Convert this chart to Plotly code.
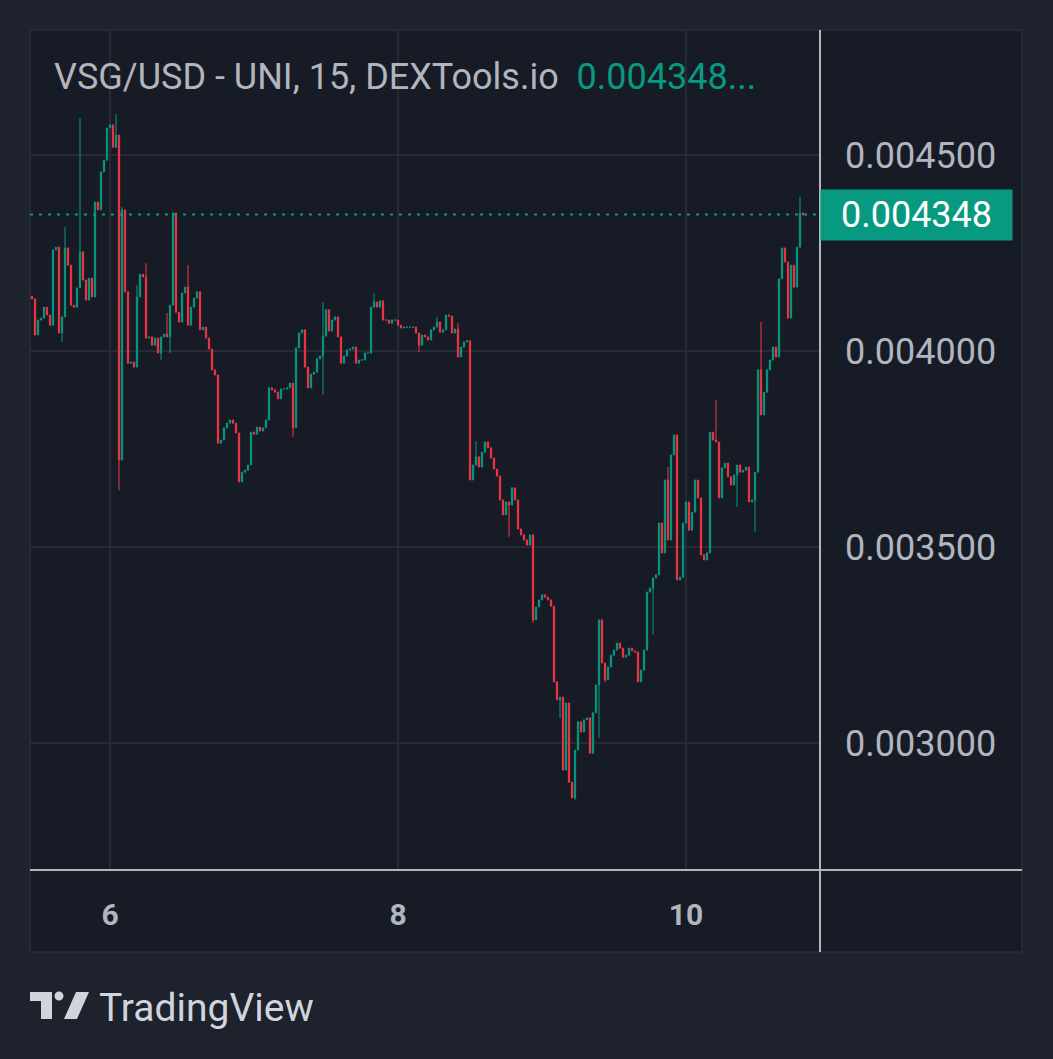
import pandas as pd
import plotly.graph_objects as go

# ---------------- data (30-min bars) ----------------
start_time = "2024-06-05 11:00"
bar_interval = "30min"
first_open = 0.004140
closes = [
    0.004133, 0.004041, 0.004079, 0.004084, 0.004112, 0.004092, 0.004066, 0.004258, 0.004265, 0.004046,
    0.004087, 0.004263, 0.004219, 0.004117, 0.004112, 0.004161, 0.004253, 0.004181, 0.004130, 0.004186,
    0.004138, 0.004380, 0.004360, 0.004457, 0.004487, 0.004569, 0.004577, 0.004520, 0.004551, 0.003722,
    0.004360, 0.004151, 0.003969, 0.003972, 0.003959, 0.004138, 0.004196, 0.004189, 0.004033, 0.004036,
    0.004015, 0.004033, 0.003995, 0.004036, 0.004043, 0.004036, 0.004117, 0.004352, 0.004099, 0.004074,
    0.004148, 0.004163, 0.004066, 0.004112, 0.004135, 0.004151, 0.004054, 0.004061, 0.004033, 0.004005,
    0.003952, 0.003939, 0.003765, 0.003773, 0.003804, 0.003816, 0.003824, 0.003816, 0.003791, 0.003666,
    0.003691, 0.003696, 0.003709, 0.003793, 0.003788, 0.003806, 0.003796, 0.003804, 0.003824, 0.003906,
    0.003901, 0.003895, 0.003878, 0.003903, 0.003903, 0.003906, 0.003918, 0.003804, 0.004008, 0.004046,
    0.004054, 0.003959, 0.003906, 0.003941, 0.003946, 0.003980, 0.003987, 0.004038, 0.004105, 0.004051,
    0.004079, 0.004087, 0.004036, 0.003969, 0.003987, 0.004003, 0.004005, 0.004010, 0.003969, 0.003977,
    0.003977, 0.003995, 0.003995, 0.004112, 0.004125, 0.004112, 0.004128, 0.004079, 0.004079, 0.004071,
    0.004079, 0.004079, 0.004066, 0.004059, 0.004061, 0.004061, 0.004061, 0.004061, 0.004046, 0.004015,
    0.004041, 0.004036, 0.004028, 0.004054, 0.004061, 0.004074, 0.004048, 0.004054, 0.004092, 0.004089,
    0.004046, 0.004056, 0.003985, 0.004010, 0.004023, 0.004026, 0.003671, 0.003709, 0.003730, 0.003704,
    0.003742, 0.003768, 0.003753, 0.003727, 0.003699, 0.003681, 0.003620, 0.003582, 0.003615, 0.003607,
    0.003651, 0.003620, 0.003546, 0.003531, 0.003518, 0.003505, 0.003531, 0.003314, 0.003347, 0.003365,
    0.003378, 0.003372, 0.003365, 0.003349, 0.003156, 0.003110, 0.003117, 0.002931, 0.003102, 0.002900,
    0.002860, 0.002982, 0.003054, 0.003028, 0.003059, 0.003064, 0.002974, 0.003077, 0.003148, 0.003314,
    0.003204, 0.003161, 0.003194, 0.003224, 0.003237, 0.003255, 0.003242, 0.003219, 0.003224, 0.003242,
    0.003235, 0.003232, 0.003156, 0.003186, 0.003237, 0.003385, 0.003395, 0.003421, 0.003429, 0.003561,
    0.003485, 0.003671, 0.003518, 0.003735, 0.003786, 0.003416, 0.003423, 0.003561, 0.003615, 0.003543,
    0.003589, 0.003671, 0.003625, 0.003480, 0.003467, 0.003485, 0.003793, 0.003773, 0.003768, 0.003625,
    0.003702, 0.003714, 0.003679, 0.003658, 0.003684, 0.003709, 0.003691, 0.003696, 0.003704, 0.003615,
    0.003620, 0.003691, 0.003952, 0.003837, 0.003895, 0.003952, 0.003977, 0.004010, 0.003985, 0.004184,
    0.004263, 0.004227, 0.004084, 0.004219, 0.004163, 0.004265, 0.004352, 0.004347, 0.004348,
]
# upper / lower wick extremes that stick out beyond the bodies
wick_high_idx = [11, 16, 28, 30, 35, 38, 45, 52, 97, 114, 135, 142, 148, 212, 228, 243, 256]
wick_high_val = [0.004316, 0.004594, 0.004605, 0.004367, 0.004168, 0.004224, 0.004097, 0.004219,
                 0.004125, 0.004148, 0.004087, 0.004071, 0.003770, 0.003704, 0.003875, 0.004074, 0.004393]
wick_low_idx = [10, 29, 43, 46, 87, 97, 129, 159, 167, 176, 181, 189, 191, 207, 235, 241]
wick_low_val = [0.004023, 0.003645, 0.003977, 0.003995, 0.003781, 0.003888, 0.003997, 0.003526,
                0.003306, 0.003064, 0.002855, 0.003013, 0.003156, 0.003276, 0.003602, 0.003538]

last_price = 0.004348
y_tick_values = [0.0030, 0.0035, 0.0040, 0.0045]
x_tick_dates = ["2024-06-06", "2024-06-08", "2024-06-10"]
x_tick_labels = ["6", "8", "10"]
x_range = ["2024-06-05 10:40", "2024-06-10 22:20"]
y_range = [0.002676, 0.004819]
title_text = "VSG/USD - UNI, 15, DEXTools.io"
price_text = "0.004348..."
brand_text = "TradingView"

# ---------------- build OHLC ----------------
times = pd.date_range(start_time, periods=len(closes), freq=bar_interval)
opens = [first_open] + closes[:-1]
highs = [max(o, c) for o, c in zip(opens, closes)]
lows = [min(o, c) for o, c in zip(opens, closes)]
for i, v in zip(wick_high_idx, wick_high_val):
    highs[i] = max(highs[i], v)
for i, v in zip(wick_low_idx, wick_low_val):
    lows[i] = min(lows[i], v)

UP = "#089981"
DOWN = "#F23645"
PAPER = "#1e222d"
PANEL = "#171b26"
GRID = "#272b37"
TXT = "#b2b5be"
AXL = "#b2b5be"
FONT = "Roboto"

W, H = 1053, 1059
PL, PR, PT, PB = 30, 820, 30, 870


def fx(p):
    return (p - PL) / (PR - PL)


def fy(p):
    return (PB - p) / (PB - PT)


fig = go.Figure(go.Candlestick(
    x=times, open=opens, high=highs, low=lows, close=closes,
    increasing=dict(line=dict(color=UP, width=1), fillcolor=UP),
    decreasing=dict(line=dict(color=DOWN, width=1), fillcolor=DOWN),
    whiskerwidth=0, showlegend=False, hoverinfo="skip",
))

shapes = [
    # chart panel background + border
    dict(type="rect", xref="paper", yref="paper", x0=fx(30), x1=fx(1022), y0=fy(952), y1=fy(30),
         fillcolor=PANEL, line=dict(color="#2a2e39", width=1.5), layer="below"),
    # price axis border
    dict(type="line", xref="paper", yref="paper", x0=1, x1=1, y0=fy(952), y1=fy(30),
         line=dict(color=AXL, width=2)),
    # time axis border
    dict(type="line", xref="paper", yref="paper", x0=fx(30), x1=fx(1022), y0=0, y1=0,
         line=dict(color=AXL, width=2)),
    # last price dotted line
    dict(type="line", xref="paper", yref="y", x0=0, x1=1, y0=last_price, y1=last_price,
         line=dict(color=UP, width=2, dash="3px,6px")),
]


def path(points):
    return "M " + " L ".join(f"{fx(a):.5f},{fy(b):.5f}" for a, b in points) + " Z"


# TradingView logo glyph
shapes.append(dict(type="path", xref="paper", yref="paper",
                   path=path([(30, 992), (52, 992), (52, 1019), (41, 1019), (41, 1001), (30, 1001)]),
                   fillcolor="#d1d4dc", line=dict(width=0)))
shapes.append(dict(type="circle", xref="paper", yref="paper",
                   x0=fx(54.5), x1=fx(63.5), y0=fy(1000.5), y1=fy(991.5),
                   fillcolor="#d1d4dc", line=dict(width=0)))
shapes.append(dict(type="path", xref="paper", yref="paper",
                   path=path([(64, 1019), (76, 992), (89, 992), (77, 1019)]),
                   fillcolor="#d1d4dc", line=dict(width=0)))

annotations = [
    dict(xref="paper", yref="y", x=1, y=last_price, xanchor="left", yanchor="middle",
         text=f"{last_price:.6f}", showarrow=False,
         font=dict(family=FONT, size=36, color="white"),
         bgcolor=UP, borderpad=0, width=191, height=50, align="center"),
    dict(xref="paper", yref="paper", x=fx(52), y=fy(77), xanchor="left", yanchor="middle",
         text=f"{title_text}&nbsp;&nbsp;<span style='color:{UP}'>{price_text}</span>",
         showarrow=False, font=dict(family=FONT, size=36, color=TXT)),
    dict(xref="paper", yref="paper", x=fx(97), y=fy(1008), xanchor="left", yanchor="middle",
         text=brand_text, showarrow=False, font=dict(family=FONT, size=39, color="#d1d4dc")),
]

fig.update_layout(
    width=W, height=H, autosize=False,
    margin=dict(l=PL, r=W - PR, t=PT, b=H - PB, pad=0),
    paper_bgcolor=PAPER, plot_bgcolor=PANEL,
    shapes=shapes, annotations=annotations,
    showlegend=False, hovermode=False,
    font=dict(family=FONT),
    xaxis=dict(type="date", range=x_range, rangeslider=dict(visible=False),
               tickvals=x_tick_dates, ticktext=x_tick_labels,
               tickfont=dict(family=FONT, size=30, color=TXT, weight="bold"),
               showgrid=True, gridcolor=GRID, gridwidth=2, zeroline=False, showline=False,
               ticks="", ticklabelstandoff=24, fixedrange=True),
    yaxis=dict(side="right", range=y_range, tickvals=y_tick_values, tickformat=".6f",
               tickfont=dict(family=FONT, size=36, color=TXT),
               showgrid=True, gridcolor=GRID, gridwidth=2, zeroline=False, showline=False,
               ticks="", ticklabelstandoff=24, fixedrange=True),
    boxgap=0.4,
)

fig.write_html("out.html", config={"displayModeBar": False},
               post_script="document.body.style.margin='0';document.body.style.overflow='hidden';")
